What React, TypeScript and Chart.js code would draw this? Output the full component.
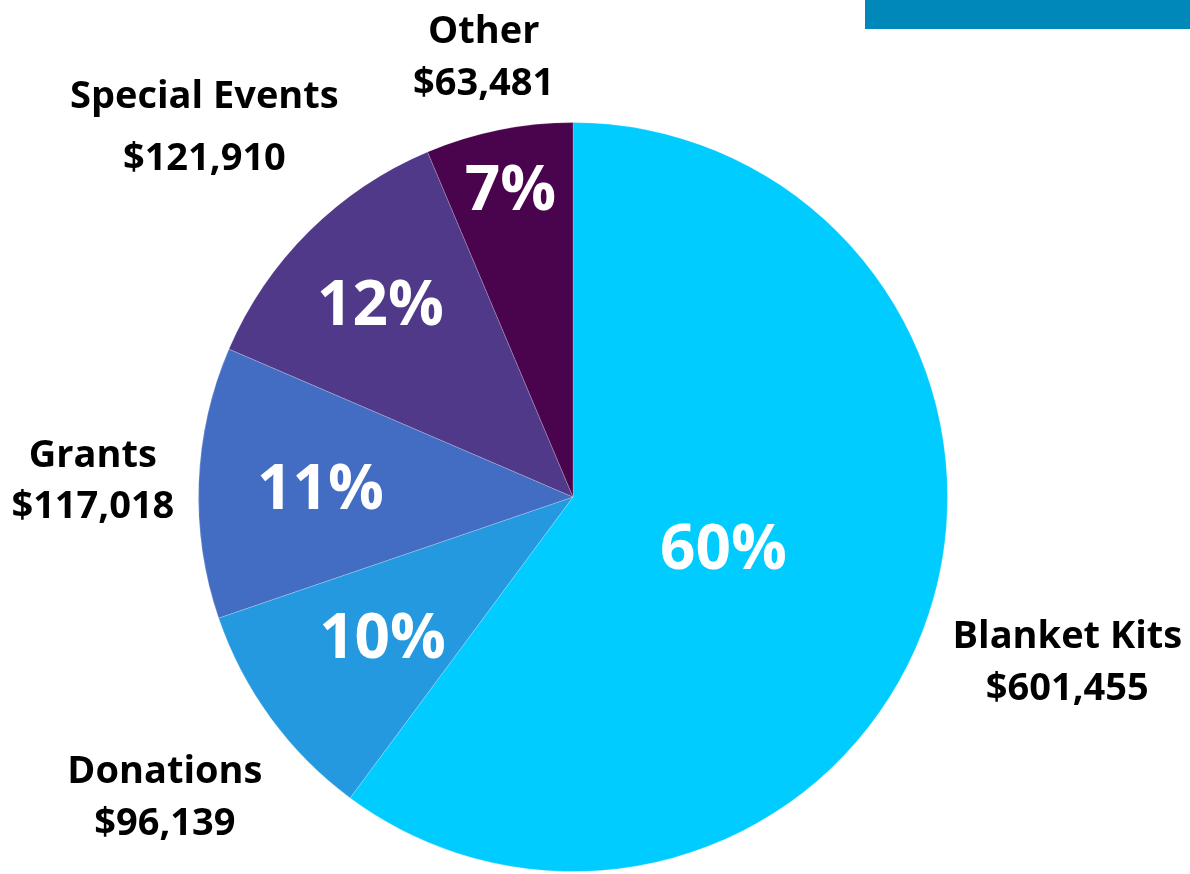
import React, { useEffect, useRef } from "react";
import { Chart, registerables } from "chart.js";

Chart.register(...registerables);

const categories = ["Blanket Kits", "Donations", "Grants", "Special Events", "Other"];
const values = [601455, 96139, 117018, 121910, 63481];
const percentLabels = ["60%", "10%", "11%", "12%", "7%"];
const amountLabels = ["$601,455", "$96,139", "$117,018", "$121,910", "$63,481"];

const colors = ["#00CCFF", "#2599E0", "#436DC2", "#51398A", "#4A044E"];

// label layout (radial factors of the outer radius)
const pctRadius = [0.423, 0.63, 0.675, 0.73, 0.843];
const nameRadius = [1.39, 1.35, 1.283, 1.397, 1.204];
const lineGap = [52, 52, 51, 62, 52];

const FONT = "'Open Sans', 'Noto Sans', sans-serif";
const PCT_SIZE = 62;
const NAME_SIZE = 38;

const labelPlugin = {
  id: "sliceLabels",
  afterDatasetsDraw(chart: any) {
    const ctx = chart.ctx;
    const meta = chart.getDatasetMeta(0);
    ctx.save();
    ctx.textAlign = "center";
    ctx.textBaseline = "alphabetic";
    meta.data.forEach((arc: any, i: number) => {
      const mid = (arc.startAngle + arc.endAngle) / 2;
      const r = arc.outerRadius;
      const px = arc.x + Math.cos(mid) * r * pctRadius[i];
      const py = arc.y + Math.sin(mid) * r * pctRadius[i];
      ctx.fillStyle = "#ffffff";
      ctx.font = `bold ${PCT_SIZE}px ${FONT}`;
      ctx.fillText(percentLabels[i], px, py + PCT_SIZE * 0.357);
      const nx = arc.x + Math.cos(mid) * r * nameRadius[i];
      const ny = arc.y + Math.sin(mid) * r * nameRadius[i];
      ctx.fillStyle = "#000000";
      ctx.font = `bold ${NAME_SIZE}px ${FONT}`;
      const g = lineGap[i] / 2;
      ctx.fillText(categories[i], nx, ny - g + NAME_SIZE * 0.357);
      ctx.fillText(amountLabels[i], nx, ny + g + NAME_SIZE * 0.357);
    });
    ctx.restore();
  },
};

export default function App() {
  const ref = useRef<HTMLCanvasElement | null>(null);
  useEffect(() => {
    if (!ref.current) return;
    const chart = new Chart(ref.current, {
      type: "pie",
      data: {
        labels: categories,
        datasets: [
          {
            data: values,
            backgroundColor: colors,
            borderColor: "rgba(255,255,255,0.2)",
            borderWidth: 1,
          },
        ],
      },
      options: {
        animation: false,
        responsive: false,
        maintainAspectRatio: false,
        layout: { padding: { left: 198, right: 242, top: 122, bottom: 2 } },
        plugins: {
          legend: { display: false },
          tooltip: { enabled: false },
        },
      },
      plugins: [labelPlugin],
    });
    if ((document as any).fonts) {
      Promise.all([
        (document as any).fonts.load(`bold ${PCT_SIZE}px 'Open Sans'`),
        (document as any).fonts.load(`bold ${NAME_SIZE}px 'Open Sans'`),
      ]).then(() => chart.update()).catch(() => {});
    }
    return () => chart.destroy();
  }, []);
  return (
    <div style={{ position: "absolute", left: 0, top: 0, width: 1190, height: 874, background: "#ffffff", overflow: "hidden" }}>
      <div style={{ position: "absolute", left: 865, top: 0, width: 325, height: 29, background: "#0088BB" }} />
      <canvas ref={ref} width={1190} height={874} style={{ position: "absolute", left: 0, top: 0, width: 1190, height: 874 }} />
    </div>
  );
}
